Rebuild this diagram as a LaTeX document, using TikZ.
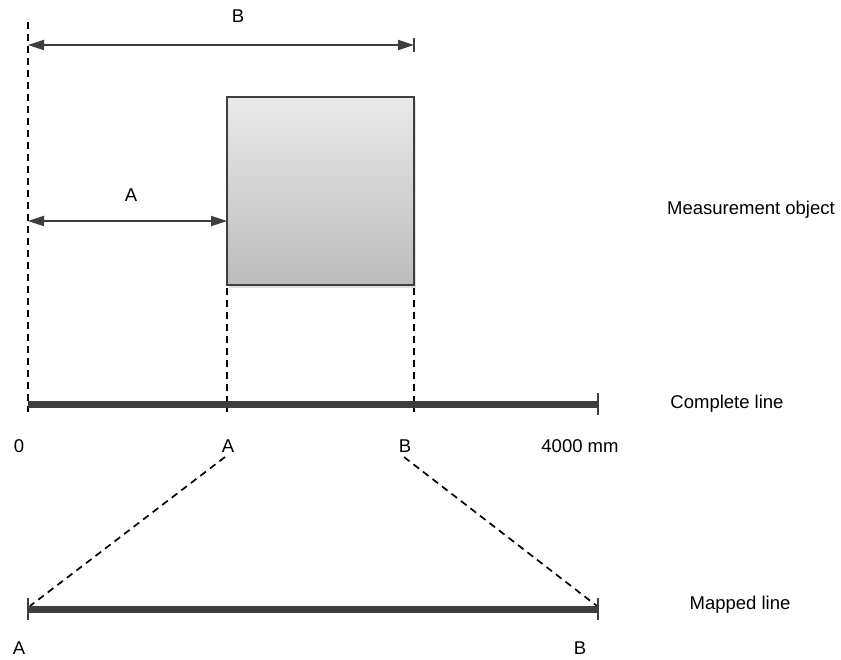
\documentclass[tikz,border=0pt]{standalone}
\usepackage{fontspec}
\setmainfont{Liberation Sans}
\usetikzlibrary{arrows.meta,shadows}
\definecolor{linedark}{HTML}{3E3E3E}
\definecolor{boxtop}{HTML}{E9E9E9}
\definecolor{boxbot}{HTML}{BCBCBC}
\tikzset{
  lbl/.style={font=\fontsize{18.5}{20}\selectfont, inner sep=0pt, text=black},
  dashline/.style={black, line width=1.7pt, dash pattern=on 7pt off 5pt},
  dimarrow/.style={linedark, line width=2pt, {Triangle[length=16pt,width=10pt]}-{Triangle[length=16pt,width=10pt]}},
  bar/.style={linedark, line width=7pt},
  tick/.style={linedark, line width=1.8pt},
  objbox/.style={draw=linedark, line width=2pt, top color=boxtop, bottom color=boxbot,
    minimum width=187pt, minimum height=188pt, inner sep=0pt, outer sep=0pt,
    drop shadow={shadow xshift=1.5pt, shadow yshift=-2.5pt, opacity=0.25}}
}
\begin{document}
\begin{tikzpicture}[x=1pt,y=-1pt]
\useasboundingbox (0,0) rectangle (841,659);
% measurement object
\node[objbox, anchor=north west] (obj) at (227,97) {};
% coordinates
\coordinate (zTop) at (28,22);
\coordinate (zBot) at (28,412);
\coordinate (zB) at (28,45);
\coordinate (bEnd) at (414,45);
\coordinate (bTickT) at (414,38);
\coordinate (bTickB) at (414,52);
\coordinate (zA) at (28,221);
\coordinate (aBot) at (obj.south west |- zBot);
\coordinate (bBot) at (obj.south east |- zBot);
\coordinate (c0) at (28,404);
\coordinate (c4000) at (598,404);
\coordinate (c4T) at (598,393);
\coordinate (c4B) at (598,415);
\coordinate (m0) at (28,609);
\coordinate (m1) at (598,609);
\coordinate (m0T) at (28,598);
\coordinate (m0B) at (28,620);
\coordinate (m1T) at (598,598);
\coordinate (m1B) at (598,620);
\coordinate (dA) at (225,457);
\coordinate (dB) at (404,457);
\coordinate (dAe) at (30,606);
\coordinate (dBe) at (597,606);
% dashed lines
\draw[dashline] (zTop) -- (zBot);
\draw[dashline] (obj.south west) ++(0,3) -- (aBot);
\draw[dashline] (obj.south east) ++(0,3) -- (bBot);
\draw[dashline] (dA) -- (dAe);
\draw[dashline] (dB) -- (dBe);
% dimension arrows
\draw[dimarrow] (zB) -- (bEnd);
\draw[tick] (bTickT) -- (bTickB);
\draw[dimarrow] (zA) -- (obj.west |- zA);
% complete line
\draw[bar] (c0) -- (c4000);
\draw[tick] (c4T) -- (c4B);
% mapped line
\draw[bar] (m0) -- (m1);
\draw[tick] (m0T) -- (m0B);
\draw[tick] (m1T) -- (m1B);
% labels
\node[lbl] (tB) at (238,16) {B};
\node[lbl] (tA) at (131,195) {A};
\node[lbl] (tobj) at (751,210) {Measurement object};
\node[lbl] (tcomp) at (727,404) {Complete line};
\node[lbl] (t0) at (19,446) {0};
\node[lbl] (tA2) at (228,446) {A};
\node[lbl] (tB2) at (405,446) {B};
\node[lbl] (t4000) at (580,446) {4000 mm};
\node[lbl] (tmap) at (740,605) {Mapped line};
\node[lbl] (tA3) at (19,648) {A};
\node[lbl] (tB3) at (580,648) {B};
\end{tikzpicture}
\end{document}
